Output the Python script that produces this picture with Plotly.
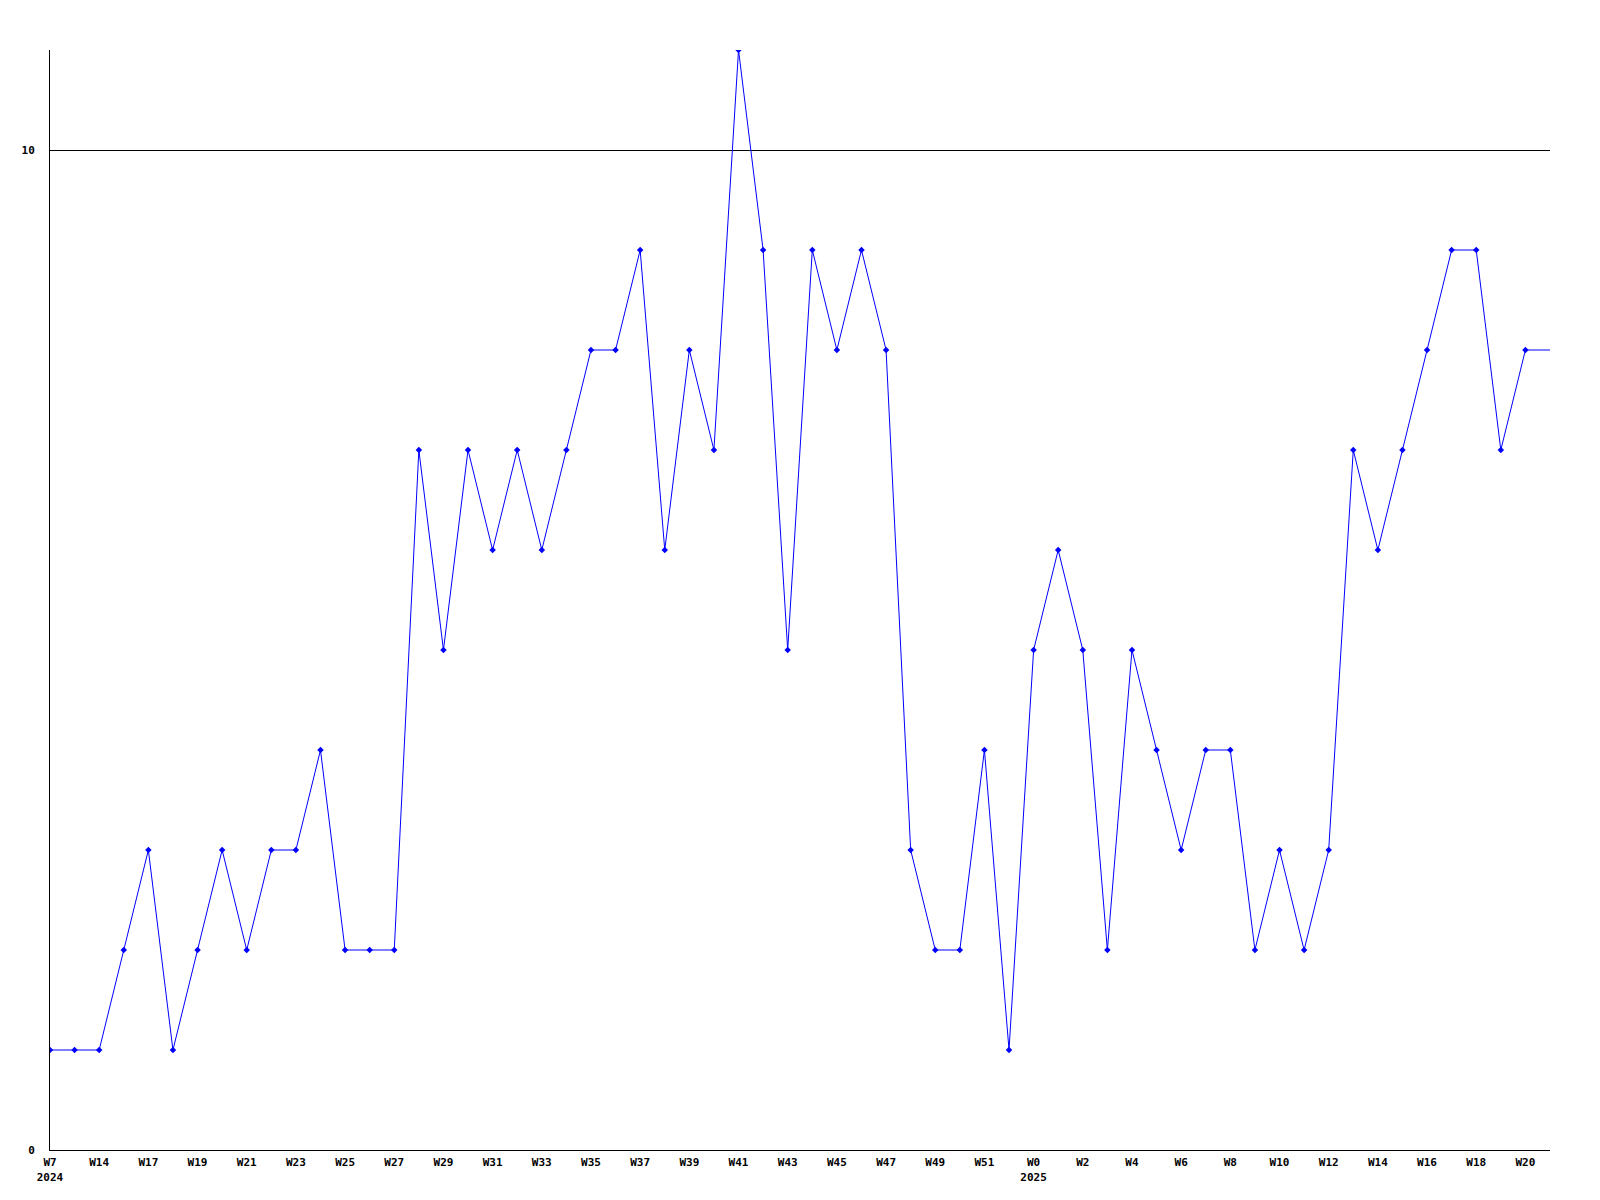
import plotly.graph_objects as go

# Weekly values (one point per week, 2024-W7 .. 2025-W20)
values = [1, 1, 1, 2, 3, 1, 2, 3, 2, 3,
          3, 4, 2, 2, 2, 7, 5, 7, 6, 7,
          6, 7, 8, 8, 9, 6, 8, 7, 11, 9,
          5, 9, 8, 9, 8, 3, 2, 2, 4, 1,
          5, 6, 5, 2, 5, 4, 3, 4, 4, 2,
          3, 2, 3, 7, 6, 7, 8, 9, 9, 7, 8]

# Tick labels shown on every second point
tick_labels = ["W7<br>2024", "W14", "W17", "W19", "W21", "W23", "W25", "W27", "W29", "W31",
               "W33", "W35", "W37", "W39", "W41", "W43", "W45", "W47", "W49", "W51",
               "W0<br>2025", "W2", "W4", "W6", "W8", "W10", "W12", "W14", "W16", "W18", "W20"]

y_ticks = [0, 10]

x = list(range(len(values)))
tickvals = x[::2]

font = dict(family="DejaVu Sans Mono", size=11, color="black", weight="bold")

fig = go.Figure()
fig.add_trace(go.Scatter(
    x=x, y=values, mode="lines+markers",
    line=dict(color="#0000FF", width=1),
    marker=dict(symbol="diamond", size=5, color="#0000FF"),
    showlegend=False, hoverinfo="skip",
))
# last value carried to the right edge of the plot
fig.add_trace(go.Scatter(
    x=[len(values) - 1, len(values)], y=[values[-1], values[-1]], mode="lines",
    line=dict(color="#0000FF", width=1), showlegend=False, hoverinfo="skip",
))

fig.update_layout(
    width=1600, height=1200,
    margin=dict(l=42, r=58, t=42, b=58),
    paper_bgcolor="white", plot_bgcolor="white",
    font=font,
)
fig.update_xaxes(
    range=[0, len(values)], tickvals=tickvals, ticktext=tick_labels,
    showgrid=False, zeroline=False, showline=True, linecolor="black", linewidth=1,
    ticks="", ticklabelstandoff=2, tickfont=font,
)
fig.update_yaxes(
    range=[0, 11], tickvals=y_ticks, ticktext=[str(v) for v in y_ticks],
    showgrid=True, gridcolor="black", gridwidth=1, zeroline=False,
    showline=True, linecolor="black", linewidth=1,
    ticks="", ticklabelstandoff=12, tickfont=font,
)

fig.write_html("out.html")
